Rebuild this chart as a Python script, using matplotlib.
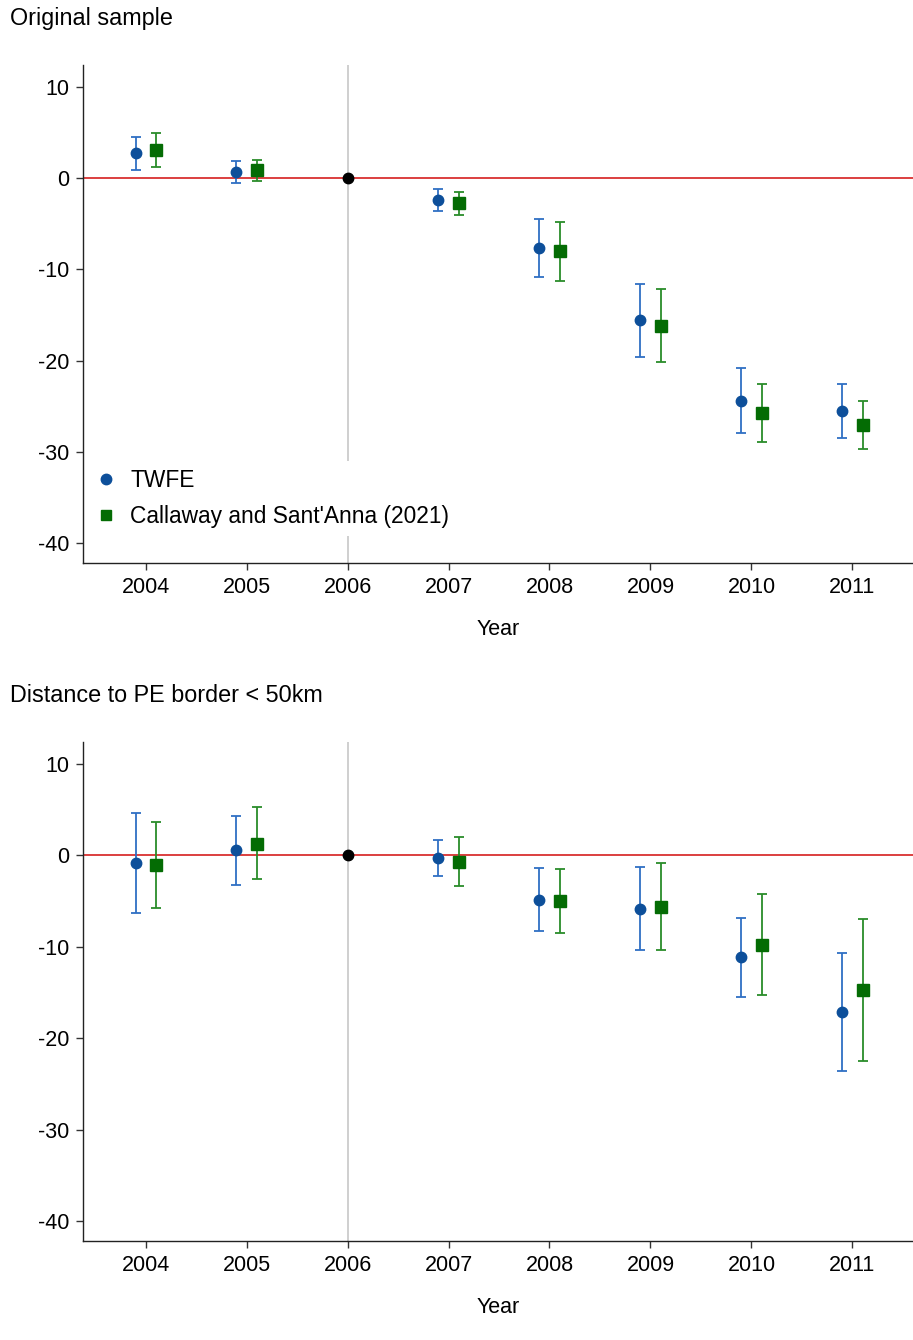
import matplotlib
matplotlib.use('Agg')
import matplotlib.pyplot as plt
from matplotlib.lines import Line2D
import numpy as np

plt.rcParams['font.family'] = ['Liberation Sans', 'DejaVu Sans']
plt.rcParams['axes.unicode_minus'] = False

# ---- 数据 ----
years = [2004, 2005, 2006, 2007, 2008, 2009, 2010, 2011]
ref_year = 2006

# 面板1：Original sample（2006 为基准年，不含）
twfe_yrs = [2004, 2005, 2007, 2008, 2009, 2010, 2011]
twfe1 = [2.74, 0.66, -2.41, -7.63, -15.6, -24.4, -25.55]
twfe1_lo = [0.91, -0.55, -3.58, -10.8, -19.6, -28.0, -28.5]
twfe1_hi = [4.56, 1.9, -1.2, -4.53, -11.65, -20.8, -22.6]
cs1 = [3.03, 0.84, -2.78, -8.03, -16.25, -25.8, -27.1]
cs1_lo = [1.2, -0.33, -4.0, -11.25, -20.2, -28.9, -29.7]
cs1_hi = [4.97, 1.93, -1.57, -4.78, -12.2, -22.6, -24.4]

# 面板2：Distance to PE border < 50km
twfe2 = [-0.88, 0.55, -0.33, -4.85, -5.84, -11.17, -17.16]
twfe2_lo = [-6.32, -3.2, -2.3, -8.32, -10.4, -15.5, -23.6]
twfe2_hi = [4.6, 4.3, 1.68, -1.42, -1.31, -6.9, -10.73]
cs2 = [-1.02, 1.28, -0.69, -4.96, -5.62, -9.78, -14.71]
cs2_lo = [-5.75, -2.59, -3.36, -8.54, -10.4, -15.3, -22.47]
cs2_hi = [3.69, 5.26, 2.0, -1.46, -0.8, -4.24, -7.0]

titles = ['Original sample', 'Distance to PE border < 50km']
yticks = [10, 0, -10, -20, -30, -40]

c_twfe_bar, c_twfe = '#2f6fc4', '#0d4f9a'
c_cs_bar, c_cs = '#2a8c2a', '#046c04'

fig = plt.figure(figsize=(9.13, 13.40), dpi=100)
W, H = 913, 1340
panels = [(65, 563), (742, 1241)]

def draw(ax, est1, lo1, hi1, est2, lo2, hi2, legend):
    x = np.array(twfe_yrs, dtype=float)
    ax.axvline(ref_year, color='#cccccc', lw=1.3, zorder=1)
    ax.axhline(0, color='#d93030', lw=1.3, zorder=2)
    e1 = np.array(est1); e2 = np.array(est2)
    ax.errorbar(x - 0.1, e1, yerr=[e1 - np.array(lo1), np.array(hi1) - e1], fmt='none',
                ecolor=c_twfe_bar, elinewidth=1.3, capsize=3.6, capthick=1.3, zorder=3)
    ax.plot(x - 0.1, e1, 'o', color=c_twfe, ms=7.5, zorder=4)
    ax.errorbar(x + 0.1, e2, yerr=[e2 - np.array(lo2), np.array(hi2) - e2], fmt='none',
                ecolor=c_cs_bar, elinewidth=1.3, capsize=3.6, capthick=1.3, zorder=3)
    ax.plot(x + 0.1, e2, 's', color=c_cs, ms=8, zorder=4)
    ax.plot([ref_year], [0], 'o', color='black', ms=7.5, zorder=5)

    ax.set_xlim(2003.38, 2011.6)
    ax.set_ylim(-42.2, 12.4)
    ax.set_xticks(years)
    ax.set_yticks(yticks)
    ax.tick_params(labelsize=15.5, length=5, width=1, color='#333333', pad=5)
    for s in ['top', 'right']:
        ax.spines[s].set_visible(False)
    for s in ['left', 'bottom']:
        ax.spines[s].set_color('#222222')
        ax.spines[s].set_linewidth(1)
    ax.set_xlabel('Year', fontsize=15.5, labelpad=15)

    if legend:
        handles = [Line2D([], [], marker='o', ls='none', color=c_twfe, ms=7.5),
                   Line2D([], [], marker='s', ls='none', color=c_cs, ms=7.5)]
        lg = ax.legend(handles, ['TWFE', "Callaway and Sant'Anna (2021)"],
                       loc='lower left', bbox_to_anchor=(-0.006, 0.036), fontsize=16.4,
                       frameon=True, framealpha=1, facecolor='white', edgecolor='none',
                       handlelength=1.0, handletextpad=0.55, labelspacing=0.55,
                       borderpad=0.35, borderaxespad=0.4)
        lg.set_zorder(10)

for i, (top, bot) in enumerate(panels):
    ax = fig.add_axes([83 / W, 1 - bot / H, (913 - 83) / W, (bot - top) / H])
    if i == 0:
        draw(ax, twfe1, twfe1_lo, twfe1_hi, cs1, cs1_lo, cs1_hi, True)
    else:
        draw(ax, twfe2, twfe2_lo, twfe2_hi, cs2, cs2_lo, cs2_hi, False)
    fig.text(10 / W, 1 - (top - 47) / H, titles[i], fontsize=16.8, ha='left', va='center')

fig.savefig('out.png', dpi=100)
